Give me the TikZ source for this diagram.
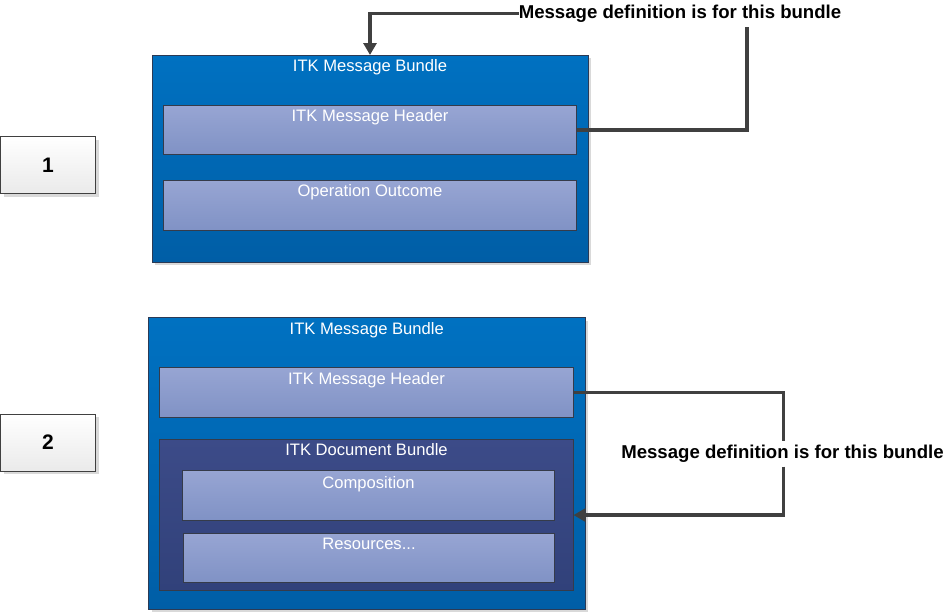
\documentclass[tikz,border=0pt]{standalone}
\usepackage{fontspec}
\setmainfont{Liberation Sans}
\usetikzlibrary{arrows.meta,shadows,calc}
\definecolor{outtop}{HTML}{0071C1}
\definecolor{outbot}{HTML}{005EA6}
\definecolor{obord}{HTML}{2B3A55}
\definecolor{intop}{HTML}{97A5D3}
\definecolor{inbot}{HTML}{8092C5}
\definecolor{ibord}{HTML}{353B4A}
\definecolor{doctop}{HTML}{3C4B88}
\definecolor{docbot}{HTML}{31417A}
\definecolor{numbot}{HTML}{EAEAEA}
\definecolor{ln}{HTML}{404040}
\begin{document}
\begin{tikzpicture}[x=1pt,y=-1pt,
  shadowed/.style={drop shadow={shadow xshift=3pt,shadow yshift=-3pt,fill=black!15,opacity=1}},
  outerbox/.style={draw=obord,line width=0.8pt,top color=outtop,bottom color=outbot,inner sep=0,outer sep=0,anchor=north west,shadowed},
  innerbox/.style={draw=ibord,line width=0.8pt,top color=intop,bottom color=inbot,inner sep=0,outer sep=0,anchor=north west},
  docbox/.style={draw=ibord,line width=0.8pt,top color=doctop,bottom color=docbot,inner sep=0,outer sep=0,anchor=north west},
  numbox/.style={draw=ln,line width=0.8pt,top color=white,bottom color=numbot,inner sep=0,outer sep=0,anchor=north west,minimum width=95pt,minimum height=57pt,shadowed,font=\bfseries\fontsize{21}{23}\selectfont},
  lbl/.style={anchor=base,text=white,inner sep=0,font=\fontsize{16.6}{18}\selectfont},
  note/.style={anchor=base,text=black,inner xsep=0,inner ysep=4pt,font=\bfseries\fontsize{18.6}{20}\selectfont},
  conn/.style={draw=ln,line width=3.2pt},
  arr/.style={conn,-{Triangle[length=12pt,width=13pt]}}
]
\useasboundingbox (0,0) rectangle (951,611);

% number boxes
\node[numbox] (n1) at (0.5,136.5) {1};
\node[numbox] (n2) at (0.5,414) {2};

% bundle 1
\node[outerbox,minimum width=436pt,minimum height=207pt] (b1) at (152,55) {};
\node[innerbox,minimum width=413pt,minimum height=48.5pt] (h1) at (163.5,105.8) {};
\node[innerbox,minimum width=413pt,minimum height=50pt] (o1) at (163.5,180.7) {};
\node[lbl] (b1t) at ($(b1.north)+(0,16.4)$) {ITK Message Bundle};
\node[lbl] (h1t) at ($(h1.north)+(0,16)$) {ITK Message Header};
\node[lbl] (o1t) at ($(o1.north)+(0,16)$) {Operation Outcome};

% bundle 2
\node[outerbox,minimum width=436.5pt,minimum height=292pt] (b2) at (148.5,317.5) {};
\node[innerbox,minimum width=414pt,minimum height=50pt] (h2) at (159.5,367.5) {};
\node[docbox,minimum width=414pt,minimum height=151.5pt] (db) at (159.5,439.3) {};
\node[innerbox,minimum width=371.5pt,minimum height=49.3pt] (cp) at (182.8,470.7) {};
\node[innerbox,minimum width=370.5pt,minimum height=49pt] (rs) at (183.8,533.3) {};
\node[lbl] (b2t) at ($(b2.north)+(0,16.6)$) {ITK Message Bundle};
\node[lbl] (h2t) at ($(h2.north)+(0,16.6)$) {ITK Message Header};
\node[lbl] (dbt) at ($(db.north)+(0,16.6)$) {ITK Document Bundle};
\node[lbl] (cpt) at ($(cp.north)+(0,17.4)$) {Composition};
\node[lbl] (rst) at ($(rs.north)+(0,16.6)$) {Resources...};

% notes
\node[note] (lab1) at (680,18.4) {Message definition is for this bundle};
\node[note] (lab2) at (782.5,458.4) {Message definition is for this bundle};

% connectors
\coordinate (c1) at (747,0);
\coordinate (c2) at (783.5,0);
\draw[conn] (h1.east) -| (c1 |- lab1.south);
\draw[arr] (lab1.west) -| (b1.north);
\draw[conn] (h2.east) -| (c2 |- lab2.north);
\draw[arr] (c2 |- lab2.south) |- (db.east);
\end{tikzpicture}
\end{document}
